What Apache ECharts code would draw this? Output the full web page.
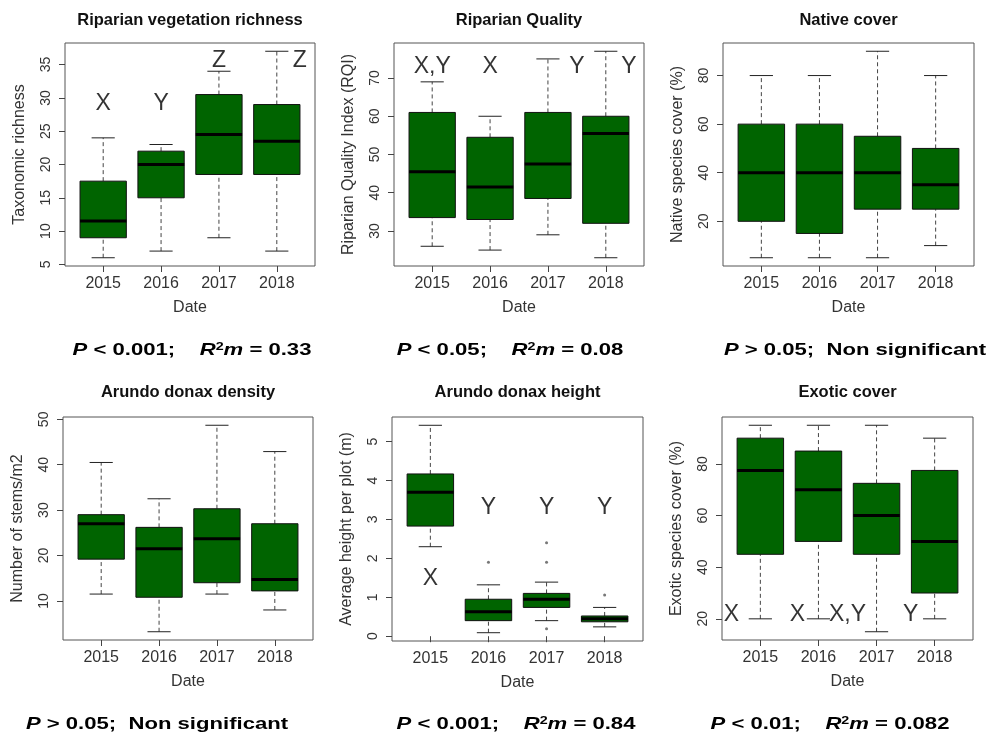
<!DOCTYPE html>
<html><head><meta charset="utf-8">
<script src="https://cdn.jsdelivr.net/npm/echarts@6/dist/echarts.min.js"></script>
<style>html,body{margin:0;padding:0;background:#fff}#c{width:991px;height:740px}</style>
</head><body><div id="c"></div>
<script>
// ---------- data ----------
const years = ['2015', '2016', '2017', '2018'];

// [lower whisker, Q1, median, Q3, upper whisker]
const richness = [[6, 9, 11.5, 17.5, 24], [7, 15, 20, 22, 23], [9, 18.5, 24.5, 30.5, 34], [7, 18.5, 23.5, 29, 37]];
const quality = [[26, 33.5, 45.5, 61, 69], [25, 33, 41.5, 54.5, 60], [29, 38.5, 47.5, 61, 75], [23, 32, 55.5, 60, 77]];
const nativeCover = [[5, 20, 40, 60, 80], [5, 15, 40, 60, 80], [5, 25, 40, 55, 90], [10, 25, 35, 50, 80]];
const density = [[11.5, 19.2, 27, 29, 40.5], [3.2, 10.8, 21.5, 26.2, 32.5], [11.5, 14, 23.7, 30.3, 48.7], [8, 12.2, 14.7, 27, 42.9]];
const heightBox = [[2.3, 2.83, 3.7, 4.17, 5.42], [0.09, 0.4, 0.63, 0.95, 1.32], [0.4, 0.74, 0.95, 1.1, 1.39], [0.24, 0.37, 0.45, 0.52, 0.74]];
const heightOutliers = [[1, 1.9], [2, 2.4], [2, 1.9], [2, 0.19], [3, 1.06]];
const exoticCover = [[20, 45, 77.5, 90, 95], [20, 50, 70, 85, 95], [15, 45, 60, 72.5, 95], [20, 30, 50, 77.5, 90]];

// tick labels
const richnessTicks = [5, 10, 15, 20, 25, 30, 35];
const qualityTicks = [30, 40, 50, 60, 70];
const nativeTicks = [20, 40, 60, 80];
const densityTicks = [10, 20, 30, 40, 50];
const heightTicks = [0, 1, 2, 3, 4, 5];
const exoticTicks = [20, 40, 60, 80];

// significance letters: [category index, value, letter]
const richnessLetters = [[0, 29.2, 'X'], [1, 29.2, 'Y'], [2, 35.6, 'Z'], [3, 35.6, 'Z']];
const qualityLetters = [[0, 72.9, 'X,Y'], [1, 72.9, 'X'], [2, 72.9, 'Y'], [3, 72.9, 'Y']];
const heightLetters = [[0, 1.48, 'X'], [1, 3.31, 'Y'], [2, 3.31, 'Y'], [3, 3.31, 'Y']];
const exoticLetters = [[0, 21.5, 'X'], [1, 21.5, 'X'], [2, 21.5, 'X,Y'], [3, 21.5, 'Y']];

// statistics text
const statTexts = [
  '{i|P} < 0.001;    {i|R}{s|2}{i|m} = 0.33',
  '{i|P} < 0.05;    {i|R}{s|2}{i|m} = 0.08',
  '{i|P} > 0.05;  Non significant',
  '{i|P} > 0.05;  Non significant',
  '{i|P} < 0.001;    {i|R}{s|2}{i|m} = 0.84',
  '{i|P} < 0.01;    {i|R}{s|2}{i|m} = 0.082'
];

// ---------- layout / style ----------
const FONT = 'Liberation Sans, Arial, sans-serif';
const panels = [
  { title: 'Riparian vegetation richness', yName: 'Taxonomic richness', boxes: richness, ticks: richnessTicks, letters: richnessLetters, nudge: [0, 0, 0, 23], outliers: [], frame: [65, 43, 250, 223], titleY: 19, stat: [192, 350] },
  { title: 'Riparian Quality', yName: 'Riparian Quality Index (RQI)', boxes: quality, ticks: qualityTicks, letters: qualityLetters, nudge: [0, 0, 29, 23], outliers: [], frame: [394, 43, 250, 223], titleY: 19, stat: [510, 350] },
  { title: 'Native cover', yName: 'Native species cover (%)', boxes: nativeCover, ticks: nativeTicks, letters: [], nudge: [], outliers: [], frame: [723, 43, 251, 223], titleY: 19, stat: [855, 350] },
  { title: 'Arundo donax density', yName: 'Number of stems/m2', boxes: density, ticks: densityTicks, letters: [], nudge: [], outliers: [], frame: [63, 417, 250, 223], titleY: 391, stat: [157, 724] },
  { title: 'Arundo donax height', yName: 'Average height per plot (m)', boxes: heightBox, ticks: heightTicks, letters: heightLetters, nudge: [0, 0, 0, 0], outliers: heightOutliers, frame: [392, 417, 251, 224], titleY: 391, stat: [516, 724] },
  { title: 'Exotic cover', yName: 'Exotic species cover (%)', boxes: exoticCover, ticks: exoticTicks, letters: exoticLetters, nudge: [-29, -21, -29, -24], outliers: [], frame: [722, 417, 251, 223], titleY: 391, stat: [830, 724] }
];

function renderBox(params, api) {
  const i = api.value(0);
  const p = [1, 2, 3, 4, 5].map(d => api.coord([i, api.value(d)]));
  const cx = p[0][0];
  const band = api.size([1, 0])[0];
  const hw = band * 0.4, sw = band * 0.2;
  const dash = { stroke: '#444', lineWidth: 1, lineDash: [4, 3], fill: null };
  const solid = { stroke: '#222', lineWidth: 1, fill: null };
  return {
    type: 'group',
    children: [
      { type: 'line', shape: { x1: cx, y1: p[0][1], x2: cx, y2: p[1][1] }, style: dash },
      { type: 'line', shape: { x1: cx, y1: p[3][1], x2: cx, y2: p[4][1] }, style: dash },
      { type: 'line', shape: { x1: cx - sw, y1: p[0][1], x2: cx + sw, y2: p[0][1] }, style: solid },
      { type: 'line', shape: { x1: cx - sw, y1: p[4][1], x2: cx + sw, y2: p[4][1] }, style: solid },
      { type: 'rect', shape: { x: cx - hw, y: p[3][1], width: 2 * hw, height: p[1][1] - p[3][1] }, style: { fill: '#006400', stroke: '#111', lineWidth: 1 } },
      { type: 'line', shape: { x1: cx - hw, y1: p[2][1], x2: cx + hw, y2: p[2][1] }, style: { stroke: '#000', lineWidth: 3, fill: null } }
    ]
  };
}

const option = { animation: false, backgroundColor: '#fff', grid: [], xAxis: [], yAxis: [], series: [], graphic: [] };

panels.forEach((p, k) => {
  const [L, T, W, H] = p.frame;
  const off = W * 0.16 / 4.32, inner = W * 4 / 4.32;
  const gf = 2 * k, gd = 2 * k + 1;
  option.grid.push({ left: L, top: T, width: W, height: H, show: true, borderColor: '#555', borderWidth: 1, backgroundColor: 'transparent' });
  option.grid.push({ left: L + off, top: T, width: inner, height: H });
  option.xAxis.push({ type: 'value', gridIndex: gf, show: false, min: 0, max: 1 });
  option.yAxis.push({ type: 'value', gridIndex: gf, show: false, min: 0, max: 1 });
  const vals = p.boxes.flat().concat(p.outliers.map(o => o[1]));
  const lo = Math.min(...vals), hi = Math.max(...vals), pad = (hi - lo) * 0.04;
  option.xAxis.push({
    type: 'category', gridIndex: gd, data: years, boundaryGap: true,
    axisLine: { show: false },
    axisTick: { show: true, alignWithLabel: true, length: 6, lineStyle: { color: '#444' } },
    axisLabel: { fontSize: 16, color: '#333', margin: 10, fontFamily: FONT },
    splitLine: { show: false },
    name: 'Date', nameLocation: 'middle', nameGap: 34,
    nameTextStyle: { fontSize: 16, color: '#333', fontFamily: FONT }
  });
  option.yAxis.push({
    type: 'value', gridIndex: gd, min: lo - pad, max: hi + pad, offset: off,
    axisLine: { show: false },
    axisTick: { show: true, length: 6, customValues: p.ticks, lineStyle: { color: '#444' } },
    axisLabel: { rotate: 90, customValues: p.ticks, fontSize: 14, color: '#333', margin: 12, fontFamily: FONT },
    splitLine: { show: false },
    name: p.yName, nameLocation: 'middle', nameGap: 37,
    nameTextStyle: { fontSize: 16, color: '#333', fontFamily: FONT }
  });
  option.series.push({
    type: 'custom', xAxisIndex: gd, yAxisIndex: gd,
    data: p.boxes.map((b, i) => [i].concat(b)),
    encode: { x: 0, y: [1, 2, 3, 4, 5] },
    renderItem: renderBox, z: 2, silent: true
  });
  if (p.outliers.length) {
    option.series.push({
      type: 'scatter', xAxisIndex: gd, yAxisIndex: gd, data: p.outliers,
      symbolSize: 3, itemStyle: { color: '#555' }, silent: true, z: 3
    });
  }
  if (p.letters.length) {
    option.series.push({
      type: 'scatter', xAxisIndex: gd, yAxisIndex: gd, symbolSize: 1, silent: true, z: 4,
      itemStyle: { color: 'rgba(0,0,0,0)' },
      label: { show: true, position: 'inside', fontSize: 23, color: '#000', fontFamily: FONT },
      data: p.letters.map((l, i) => ({ value: [l[0], l[1]], label: { formatter: l[2], offset: [p.nudge[i] || 0, 0] } }))
    });
  }
  option.graphic.push({
    type: 'text', x: L + W / 2, y: p.titleY + 1, silent: true,
    style: { text: p.title, font: 'bold 16.5px ' + FONT, fill: '#111', align: 'center', verticalAlign: 'middle', textAlign: 'center', textVerticalAlign: 'middle' }
  });
  option.graphic.push({
    type: 'text', x: p.stat[0], y: p.stat[1], scaleX: 1.3, silent: true,
    style: {
      text: statTexts[k], font: 'bold 17px ' + FONT, fill: '#000',
      align: 'center', verticalAlign: 'middle', textAlign: 'center', textVerticalAlign: 'middle',
      rich: {
        i: { fontStyle: 'italic', fontWeight: 'bold', fontSize: 17, fontFamily: FONT, fill: '#000' },
        s: { fontWeight: 'bold', fontSize: 11, fontFamily: FONT, verticalAlign: 'top', fill: '#000' }
      }
    }
  });
});

const chart = echarts.init(document.getElementById('c'), null, { renderer: 'canvas' });
chart.setOption(option);
</script>
</body></html>
